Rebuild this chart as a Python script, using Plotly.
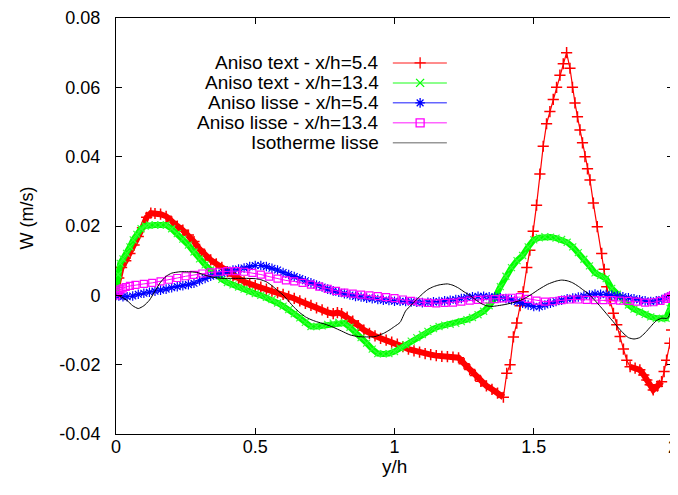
import plotly.graph_objects as go

# ---------------- data ----------------
red_x = [0.000, 0.010, 0.020, 0.035, 0.050, 0.065, 0.080, 0.095, 0.110, 0.125,
         0.140, 0.160, 0.180, 0.200, 0.220, 0.240, 0.260, 0.280, 0.300, 0.320,
         0.340, 0.360, 0.380, 0.400, 0.420, 0.440, 0.460, 0.480, 0.500, 0.520,
         0.540, 0.560, 0.580, 0.600, 0.620, 0.640, 0.660, 0.680, 0.700, 0.720,
         0.740, 0.760, 0.780, 0.795, 0.810, 0.830, 0.850, 0.870, 0.890, 0.910,
         0.930, 0.950, 0.970, 0.990, 1.010, 1.030, 1.050, 1.070, 1.090, 1.110,
         1.130, 1.150, 1.170, 1.190, 1.210, 1.230, 1.250, 1.270, 1.290, 1.310,
         1.330, 1.350, 1.370, 1.391, 1.403, 1.415, 1.427, 1.439, 1.451, 1.462,
         1.475, 1.486, 1.498, 1.510, 1.522, 1.534, 1.546, 1.558, 1.570, 1.582,
         1.594, 1.606, 1.618, 1.630, 1.639, 1.648, 1.657, 1.666, 1.675, 1.684,
         1.693, 1.702, 1.714, 1.728, 1.744, 1.753, 1.762, 1.774, 1.786, 1.798,
         1.810, 1.822, 1.834, 1.846, 1.864, 1.881, 1.895, 1.906, 1.918, 1.929,
         1.944, 1.959, 1.968, 1.977, 1.989, 1.995, 2.000]
red_y = [0.0010, 0.0050, 0.0080, 0.0100, 0.0121, 0.0145, 0.0170, 0.0195, 0.0225, 0.0237,
         0.0236, 0.0234, 0.0228, 0.0212, 0.0200, 0.0188, 0.0174, 0.0155, 0.0133, 0.0115,
         0.0102, 0.0091, 0.0081, 0.0068, 0.0056, 0.0046, 0.0039, 0.0033, 0.0028, 0.0024,
         0.0018, 0.0012, 0.0008, 0.0003, -0.0003, -0.0009, -0.0016, -0.0023, -0.0029, -0.0036,
         -0.0042, -0.0049, -0.0053, -0.0050, -0.0053, -0.0063, -0.0074, -0.0087, -0.0100, -0.0110,
         -0.0117, -0.0124, -0.0129, -0.0135, -0.0141, -0.0148, -0.0155, -0.0160, -0.0164, -0.0168,
         -0.0171, -0.0174, -0.0176, -0.0177, -0.0178, -0.0180, -0.0197, -0.0214, -0.0231, -0.0248,
         -0.0261, -0.0271, -0.0282, -0.0294, -0.0225, -0.0200, -0.0120, -0.0080, -0.0030, 0.0010,
         0.0080, 0.0130, 0.0185, 0.0260, 0.0350, 0.0430, 0.0495, 0.0530, 0.0565, 0.0600,
         0.0635, 0.0668, 0.0700, 0.0655, 0.0600, 0.0555, 0.0515, 0.0477, 0.0440, 0.0400,
         0.0365, 0.0333, 0.0266, 0.0198, 0.0121, 0.0075, 0.0025, -0.0015, -0.0052, -0.0085,
         -0.0119, -0.0155, -0.0187, -0.0206, -0.0210, -0.0215, -0.0230, -0.0244, -0.0258, -0.0273,
         -0.0262, -0.0249, -0.0220, -0.0187, -0.0138, -0.0100, -0.0060]

green_x = [0.000, 0.008, 0.015, 0.025, 0.038, 0.050, 0.062, 0.075, 0.090, 0.105,
           0.120, 0.140, 0.160, 0.180, 0.200, 0.220, 0.240, 0.260, 0.280, 0.300,
           0.320, 0.340, 0.360, 0.380, 0.400, 0.420, 0.440, 0.460, 0.480, 0.500,
           0.520, 0.540, 0.560, 0.580, 0.600, 0.620, 0.640, 0.660, 0.680, 0.700,
           0.720, 0.740, 0.760, 0.780, 0.800, 0.820, 0.840, 0.860, 0.880, 0.900,
           0.920, 0.940, 0.960, 0.980, 1.000, 1.020, 1.040, 1.060, 1.080, 1.100,
           1.120, 1.140, 1.160, 1.180, 1.200, 1.220, 1.240, 1.260, 1.280, 1.300,
           1.320, 1.340, 1.360, 1.380, 1.400, 1.420, 1.440, 1.460, 1.480, 1.500,
           1.520, 1.540, 1.560, 1.580, 1.600, 1.620, 1.640, 1.660, 1.680, 1.700,
           1.720, 1.740, 1.760, 1.780, 1.800, 1.820, 1.840, 1.860, 1.880, 1.900,
           1.920, 1.940, 1.960, 1.975, 1.990, 2.000]
green_y = [0.0010, 0.0060, 0.0092, 0.0105, 0.0121, 0.0140, 0.0160, 0.0176, 0.0192, 0.0200,
           0.0203, 0.0203, 0.0203, 0.0203, 0.0192, 0.0178, 0.0162, 0.0145, 0.0125, 0.0105,
           0.0088, 0.0073, 0.0058, 0.0046, 0.0037, 0.0030, 0.0024, 0.0018, 0.0011, 0.0005,
           0.0000, -0.0006, -0.0012, -0.0022, -0.0031, -0.0041, -0.0053, -0.0065, -0.0078, -0.0090,
           -0.0090, -0.0088, -0.0084, -0.0080, -0.0078, -0.0080, -0.0092, -0.0106, -0.0122, -0.0138,
           -0.0155, -0.0168, -0.0169, -0.0168, -0.0162, -0.0152, -0.0142, -0.0132, -0.0122, -0.0113,
           -0.0104, -0.0096, -0.0090, -0.0086, -0.0084, -0.0081, -0.0076, -0.0070, -0.0064, -0.0056,
           -0.0046, -0.0030, -0.0008, 0.0025, 0.0055, 0.0080, 0.0100, 0.0115, 0.0140, 0.0160,
           0.0166, 0.0169, 0.0168, 0.0165, 0.0161, 0.0153, 0.0140, 0.0123, 0.0104, 0.0085,
           0.0065, 0.0057, 0.0048, 0.0020, 0.0003, -0.0015, -0.0028, -0.0040, -0.0048, -0.0055,
           -0.0062, -0.0066, -0.0068, -0.0066, -0.0038, -0.0004]

blue_x = [0.000, 0.010, 0.025, 0.040, 0.060, 0.080, 0.100, 0.120, 0.140, 0.160,
          0.180, 0.200, 0.220, 0.240, 0.260, 0.280, 0.300, 0.320, 0.340, 0.360,
          0.380, 0.400, 0.420, 0.440, 0.460, 0.480, 0.500, 0.520, 0.540, 0.560,
          0.580, 0.600, 0.620, 0.640, 0.660, 0.680, 0.700, 0.720, 0.740, 0.760,
          0.780, 0.800, 0.820, 0.840, 0.860, 0.880, 0.900, 0.920, 0.940, 0.960,
          0.980, 1.000, 1.020, 1.040, 1.060, 1.080, 1.100, 1.120, 1.140, 1.160,
          1.180, 1.200, 1.220, 1.240, 1.260, 1.280, 1.300, 1.320, 1.340, 1.360,
          1.380, 1.400, 1.420, 1.440, 1.460, 1.480, 1.500, 1.520, 1.540, 1.560,
          1.580, 1.600, 1.620, 1.640, 1.660, 1.680, 1.700, 1.720, 1.740, 1.760,
          1.780, 1.800, 1.820, 1.840, 1.860, 1.880, 1.900, 1.920, 1.940, 1.960,
          1.980, 2.000]
blue_y = [0.0000, -0.0002, -0.0004, -0.0004, -0.0002, 0.0003, 0.0006, 0.0009, 0.0012, 0.0015,
          0.0018, 0.0022, 0.0025, 0.0028, 0.0031, 0.0035, 0.0042, 0.0049, 0.0055, 0.0060,
          0.0064, 0.0069, 0.0073, 0.0076, 0.0079, 0.0083, 0.0086, 0.0086, 0.0083, 0.0078,
          0.0073, 0.0066, 0.0060, 0.0054, 0.0048, 0.0042, 0.0036, 0.0030, 0.0024, 0.0018,
          0.0013, 0.0009, 0.0005, 0.0001, -0.0003, -0.0005, -0.0008, -0.0010, -0.0012, -0.0014,
          -0.0015, -0.0017, -0.0017, -0.0018, -0.0019, -0.0020, -0.0021, -0.0020, -0.0019, -0.0018,
          -0.0016, -0.0014, -0.0012, -0.0009, -0.0006, -0.0004, -0.0003, -0.0003, -0.0004, -0.0005,
          -0.0007, -0.0009, -0.0013, -0.0018, -0.0023, -0.0028, -0.0032, -0.0033, -0.0028, -0.0023,
          -0.0018, -0.0014, -0.0010, -0.0008, -0.0005, -0.0002, 0.0001, 0.0004, 0.0003, 0.0002,
          0.0000, -0.0002, -0.0004, -0.0007, -0.0010, -0.0013, -0.0016, -0.0018, -0.0016, -0.0012,
          -0.0005, 0.0001]

magenta_x = [0.000, 0.005, 0.010, 0.016, 0.024, 0.035, 0.050, 0.070, 0.100, 0.130,
             0.160, 0.190, 0.220, 0.250, 0.280, 0.310, 0.340, 0.370, 0.400, 0.430,
             0.460, 0.490, 0.520, 0.550, 0.580, 0.610, 0.640, 0.670, 0.700, 0.730,
             0.760, 0.790, 0.820, 0.850, 0.880, 0.910, 0.940, 0.970, 1.000, 1.030,
             1.060, 1.090, 1.120, 1.150, 1.180, 1.210, 1.240, 1.270, 1.300, 1.330,
             1.360, 1.390, 1.420, 1.450, 1.480, 1.510, 1.540, 1.570, 1.600, 1.630,
             1.660, 1.690, 1.720, 1.750, 1.780, 1.810, 1.840, 1.870, 1.900, 1.930,
             1.955, 1.975, 1.985, 1.993, 2.000]
magenta_y = [0.0000, 0.0008, 0.0013, 0.0017, 0.0020, 0.0024, 0.0027, 0.0030, 0.0033, 0.0036,
             0.0040, 0.0045, 0.0050, 0.0055, 0.0059, 0.0063, 0.0066, 0.0068, 0.0070, 0.0070,
             0.0068, 0.0065, 0.0060, 0.0054, 0.0048, 0.0043, 0.0040, 0.0036, 0.0031, 0.0025,
             0.0019, 0.0013, 0.0008, 0.0005, 0.0002, 0.0000, -0.0002, -0.0005, -0.0008, -0.0012,
             -0.0016, -0.0020, -0.0022, -0.0023, -0.0022, -0.0021, -0.0018, -0.0015, -0.0013, -0.0012,
             -0.0011, -0.0009, -0.0007, -0.0005, -0.0010, -0.0015, -0.0018, -0.0017, -0.0014, -0.0012,
             -0.0012, -0.0013, -0.0014, -0.0014, -0.0014, -0.0015, -0.0016, -0.0018, -0.0021, -0.0020,
             -0.0016, -0.0010, -0.0006, -0.0003, 0.0001]

black_x = [0.000, 0.020, 0.040, 0.060, 0.080, 0.100, 0.120, 0.140, 0.160, 0.180,
           0.200, 0.230, 0.260, 0.290, 0.320, 0.350, 0.380, 0.420, 0.460, 0.500,
           0.520, 0.540, 0.560, 0.580, 0.600, 0.620, 0.640, 0.660, 0.680, 0.700,
           0.720, 0.750, 0.780, 0.810, 0.840, 0.870, 0.900, 0.930, 0.960, 0.980,
           1.000, 1.020, 1.040, 1.060, 1.080, 1.100, 1.120, 1.140, 1.160, 1.190,
           1.210, 1.230, 1.250, 1.270, 1.290, 1.310, 1.330, 1.350, 1.370, 1.400,
           1.430, 1.460, 1.490, 1.520, 1.550, 1.580, 1.600, 1.620, 1.640, 1.660,
           1.680, 1.700, 1.720, 1.740, 1.760, 1.780, 1.800, 1.820, 1.840, 1.860,
           1.880, 1.900, 1.920, 1.940, 1.960, 1.980, 1.990, 2.000]
black_y = [0.0001, -0.0005, -0.0015, -0.0030, -0.0038, -0.0030, -0.0014, 0.0012, 0.0038, 0.0055,
           0.0064, 0.0068, 0.0068, 0.0066, 0.0058, 0.0052, 0.0049, 0.0049, 0.0049, 0.0048,
           0.0045, 0.0039, 0.0028, 0.0014, 0.0001, -0.0017, -0.0035, -0.0050, -0.0062, -0.0070,
           -0.0076, -0.0083, -0.0092, -0.0103, -0.0114, -0.0119, -0.0120, -0.0119, -0.0110, -0.0101,
           -0.0090, -0.0078, -0.0045, -0.0028, -0.0012, 0.0004, 0.0017, 0.0025, 0.0030, 0.0033,
           0.0029, 0.0021, 0.0010, 0.0000, -0.0012, -0.0023, -0.0030, -0.0032, -0.0030, -0.0026,
           -0.0020, -0.0012, 0.0002, 0.0018, 0.0032, 0.0041, 0.0044, 0.0042, 0.0036, 0.0026,
           0.0014, 0.0002, -0.0015, -0.0033, -0.0052, -0.0071, -0.0090, -0.0108, -0.0122, -0.0126,
           -0.0122, -0.0108, -0.0090, -0.0073, -0.0066, -0.0066, -0.0050, 0.0000]

series_names = ["Aniso text - x/h=5.4", "Aniso text - x/h=13.4",
                "Aniso lisse - x/h=5.4", "Aniso lisse - x/h=13.4", "Isotherme lisse"]

x_tick_vals = [0, 0.5, 1, 1.5, 2]
x_tick_text = ["0", "0.5", "1", "1.5", "2"]
y_tick_vals = [-0.04, -0.02, 0, 0.02, 0.04, 0.06, 0.08]
y_tick_text = ["-0.04", "-0.02", "0", "0.02", "0.04", "0.06", "0.08"]

# ---------------- styles ----------------
FONT = "Liberation Sans, Arial, sans-serif"
RED, GREEN, BLUE, MAGENTA, BLACK = "#ff0000", "#00ff00", "#0000ff", "#ff00ff", "#000000"
colors = [RED, GREEN, BLUE, MAGENTA, BLACK]
symbols = ["cross-thin", "x-thin", "asterisk", "square-open", None]

fig = go.Figure()

# dense-marker "band" look (gnuplot draws ~1000 overlapping points)
red_band_y = [y if (x <= 1.392 or 1.84 <= x <= 1.965) else None
              for x, y in zip(red_x, red_y)]
fig.add_trace(go.Scatter(x=red_x, y=red_band_y, mode="lines", connectgaps=False,
                         line=dict(color=RED, width=6), hoverinfo="skip", showlegend=False))
fig.add_trace(go.Scatter(x=red_x, y=red_y, mode="lines+markers", name=series_names[0],
                         line=dict(color=RED, width=1.2),
                         marker=dict(symbol="cross-thin", size=8, line=dict(color=RED, width=1.5)),
                         showlegend=False))

fig.add_trace(go.Scatter(x=green_x, y=green_y, mode="lines",
                         line=dict(color=GREEN, width=6), hoverinfo="skip", showlegend=False))
fig.add_trace(go.Scatter(x=green_x, y=green_y, mode="lines+markers", name=series_names[1],
                         line=dict(color=GREEN, width=1.2),
                         marker=dict(symbol="x-thin", size=7, line=dict(color="#33ff33", width=1.2)),
                         showlegend=False))

fig.add_trace(go.Scatter(x=blue_x, y=blue_y, mode="lines+markers", name=series_names[2],
                         line=dict(color=BLUE, width=1),
                         marker=dict(symbol="asterisk", size=8, line=dict(color=BLUE, width=1.2)),
                         showlegend=False))

fig.add_trace(go.Scatter(x=magenta_x, y=magenta_y, mode="lines+markers", name=series_names[3],
                         line=dict(color=MAGENTA, width=1),
                         marker=dict(symbol="square-open", size=7, color=MAGENTA,
                                     line=dict(color=MAGENTA, width=1.2)),
                         showlegend=False))

fig.add_trace(go.Scatter(x=black_x, y=black_y, mode="lines", name=series_names[4],
                         line=dict(color=BLACK, width=1, shape="spline", smoothing=0.6),
                         showlegend=False))

# ---------------- gnuplot-style key (text right, sample left-to-right after it) ----------------
key_text_x = 0.476
key_line_x0, key_line_x1, key_mark_x = 0.497, 0.594, 0.546
key_rows = [0.892, 0.844, 0.796, 0.748, 0.700]
for name, col, sym, ry in zip(series_names, colors, symbols, key_rows):
    fig.add_annotation(xref="paper", yref="paper", x=key_text_x, y=ry, text=name,
                       showarrow=False, xanchor="right", yanchor="middle",
                       font=dict(family=FONT, size=19, color="black"))
    fig.add_trace(go.Scatter(x=[key_line_x0, key_line_x1], y=[ry, ry], xaxis="x2", yaxis="y2",
                             mode="lines", line=dict(color=col if col != BLACK else "#555555", width=1.5),
                             opacity=0.6, hoverinfo="skip", showlegend=False))
    if sym:
        fig.add_trace(go.Scatter(x=[key_mark_x], y=[ry], xaxis="x2", yaxis="y2", mode="markers",
                                 marker=dict(symbol=sym, size=8, color=col, line=dict(color=col, width=1.3)),
                                 hoverinfo="skip", showlegend=False))

# axis titles
fig.add_annotation(xref="paper", yref="paper", x=-0.16, y=0.52, text="W (m/s)",
                   textangle=-90, showarrow=False, xanchor="center", yanchor="middle",
                   font=dict(family=FONT, size=18, color="black"))
fig.add_annotation(xref="paper", yref="paper", x=0.5, y=-0.079, text="y/h",
                   showarrow=False, xanchor="center", yanchor="middle",
                   font=dict(family=FONT, size=19, color="black"))

axis_common = dict(showgrid=False, zeroline=False, showline=True, linecolor="black", linewidth=1,
                   mirror="allticks", ticks="inside", ticklen=6, tickcolor="black", tickwidth=1,
                   ticklabeloverflow="allow")
# the page body adds an 8px margin, so the figure is shifted by 8px in both directions
fig.update_layout(
    width=670, height=487,
    margin=dict(l=108, r=5, t=10, b=61, autoexpand=False),
    paper_bgcolor="white", plot_bgcolor="white",
    showlegend=False,
    xaxis=dict(range=[0, 2], tickvals=x_tick_vals, ticktext=x_tick_text,
               ticklabelstandoff=-4, tickfont=dict(family=FONT, size=18, color="black"),
               **axis_common),
    yaxis=dict(range=[-0.04, 0.08], tickvals=y_tick_vals, ticktext=y_tick_text,
               ticklabelstandoff=11, tickfont=dict(family=FONT, size=18, color="black"),
               **axis_common),
    xaxis2=dict(overlaying="x", range=[0, 1], visible=False),
    yaxis2=dict(overlaying="y", range=[0, 1], visible=False),
)

fig.write_html("out.html")
